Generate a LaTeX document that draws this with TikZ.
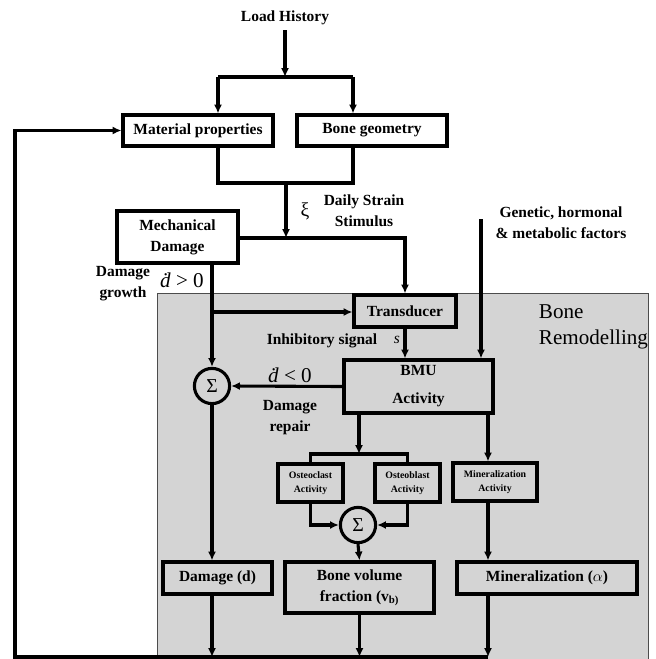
\documentclass[tikz,border=0pt]{standalone}
\usepackage{fontspec}
\setmainfont{Liberation Serif}
\usetikzlibrary{arrows.meta}
\definecolor{remodgray}{RGB}{212,212,212}
\tikzset{
  box/.style={draw, line width=2.2pt, inner sep=0pt, align=center},
  sumnode/.style={draw, circle, line width=2.2pt, inner sep=0pt, minimum size=0.88cm,
    font=\fontsize{14}{14}\selectfont\normalfont},
  small/.style={font=\fontsize{7}{10}\selectfont\bfseries},
  flow/.style={line width=2.2pt, -{Latex[length=2.2mm,width=2mm]}},
  wire/.style={line width=2.2pt}
}
\begin{document}
\begin{tikzpicture}[x=0.025cm, y=-0.025cm, font=\fontsize{11}{15}\selectfont\bfseries]
\useasboundingbox (0,0) rectangle (656,659);
\fill[remodgray] (157,293) rectangle (648,659);
\draw[gray!60!black, line width=0.6pt] (157,659) -- (157,293) -- (648,293) -- (648,659);
\node[anchor=north west, align=left, font=\fontsize{15}{18}\selectfont\normalfont] (remod) at (534,300) {Bone\\Remodelling};

\node (load) at (285,18) {Load History};
\coordinate (split) at (285,77);
\coordinate (lj) at (218,77);
\coordinate (rj) at (353,77);
\node[box, minimum width=3.75cm, minimum height=0.775cm, fill=white] (matprop) at (198,130.5) {Material properties};
\node[box, minimum width=3.75cm, minimum height=0.775cm, fill=white] (bonegeo) at (372,130.5) {Bone geometry};
\draw[flow] (load) -- (split);
\draw[wire] (lj) -- (rj);
\draw[flow] (lj) -- (lj |- matprop.north);
\draw[flow] (rj) -- (rj |- bonegeo.north);
\coordinate (merge) at (286,183);
\draw[wire] (lj |- matprop.south) -- (lj |- merge) -- (rj |- merge) -- (rj |- bonegeo.south);

\node (xi) at (305,211) {\fontsize{14}{14}\selectfont\normalfont ξ};
\node[align=center] (strain) at (364,211) {Daily Strain\\Stimulus};
\node[align=center] (genetic) at (561,223) {Genetic, hormonal\\\& metabolic factors};
\coordinate (gtop) at (481,219);

\node[box, minimum width=3.025cm, minimum height=1.3cm, fill=white] (md) at (177.5,237) {Mechanical\\Damage};
\coordinate (stim) at (286,238);
\node[box, minimum width=2.55cm, minimum height=0.8cm] (trans) at (405,311) {Transducer};
\draw[flow] (merge) -- (stim);
\draw[flow] (md.east |- stim) -| (trans.north);

\node[sumnode] (sum1) at (212,386) {Σ};
\node[align=center] (growth) at (123,284) {Damage\\growth};
\node (dpos) at (182,280) {\fontsize{15}{15}\selectfont\normalfont\textit{\.d} > 0};
\coordinate (dg) at (212,312);
\draw[flow] (sum1 |- md.south) -- (sum1.north);
\draw[flow] (dg) -- (dg -| trans.west);

\node[box, minimum width=3.725cm, minimum height=1.325cm] (bmu) at (418.5,386.5) {BMU\\[5pt]Activity};
\node (inhib) at (322,341) {Inhibitory signal};
\node (sig) at (397,340) {\normalfont\textit{s}};
\draw[flow] (trans.south) -- (trans.south |- bmu.north);
\draw[flow] (gtop) -- (gtop |- bmu.north);
\draw[flow] (bmu.west) -- (sum1.east);
\node (dneg) at (290,375) {\fontsize{15}{15}\selectfont\normalfont\textit{\.d} < 0};
\node[align=center] (repair) at (290,418) {Damage\\repair};

\coordinate (cj) at (359,454);
\coordinate (mline) at (488,413);
\node[box, small, minimum width=1.625cm, minimum height=0.95cm] (ocl) at (310.5,483) {Osteoclast\\Activity};
\node[box, small, minimum width=1.625cm, minimum height=0.95cm] (obl) at (407.5,483) {Osteoblast\\Activity};
\node[box, small, minimum width=2.1cm, minimum height=0.95cm] (minact) at (495,482) {Mineralization\\Activity};
\draw[flow] (cj |- bmu.south) -- (cj);
\draw[wire] (ocl.north) -- (ocl.north |- cj) -- (obl.north |- cj) -- (obl.north);
\draw[flow] (mline) -- (mline |- minact.north);

\node[sumnode] (sum2) at (358,525) {Σ};
\draw[flow] (ocl.south) |- (sum2.west);
\draw[flow] (obl.south) |- (sum2.east);

\node[box, minimum width=2.725cm, minimum height=0.8cm] (dam) at (217.5,578) {Damage (d)};
\node[box, minimum width=3.725cm, minimum height=1.275cm] (bvf) at (359.5,587.5) {Bone volume\\fraction (v\textsubscript{b)}};
\node[box, minimum width=4.5cm, minimum height=0.8cm] (minz) at (547,578) {Mineralization ($\alpha$)};
\draw[flow] (sum1.south) -- (sum1 |- dam.north);
\draw[flow] (sum2.south) -- (bvf.north);
\draw[flow] (mline |- minact.south) -- (mline |- minz.north);

\coordinate (bl) at (15,657);
\draw[flow] (sum1 |- dam.south) -- (sum1 |- bl);
\draw[flow] (bvf.south) -- (bvf.south |- bl);
\draw[flow] (mline |- minz.south) -- (mline |- bl);
\draw[flow] (mline |- bl) -- (bl) |- (matprop.west);
\end{tikzpicture}
\end{document}
